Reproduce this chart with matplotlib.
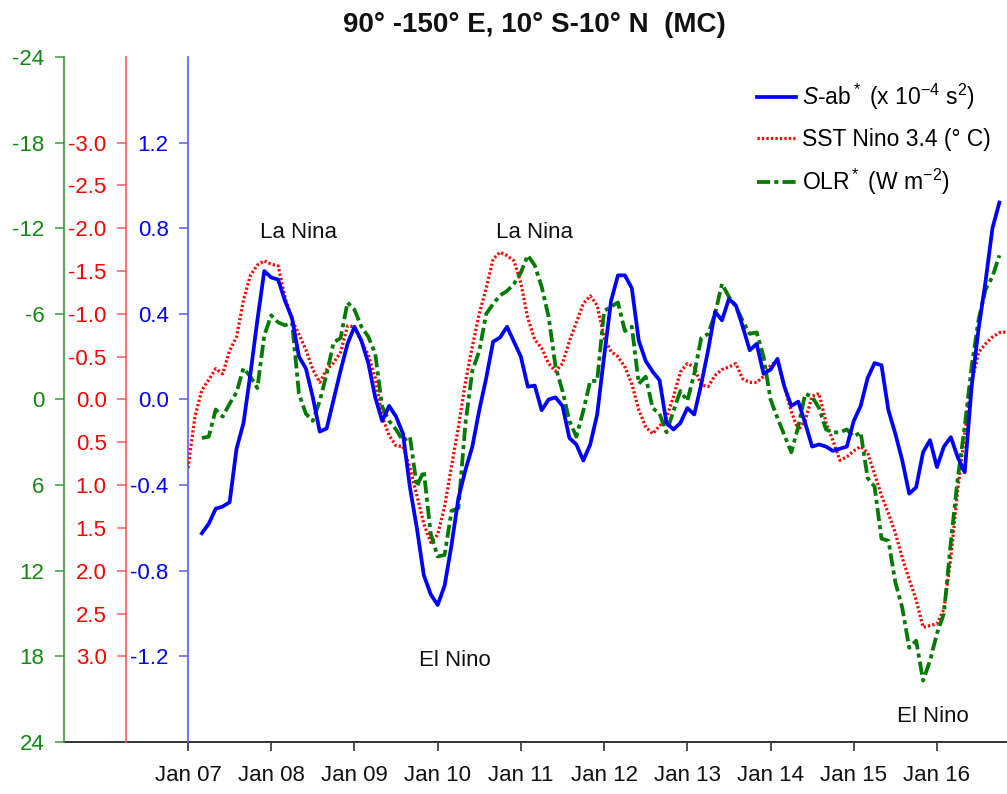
import matplotlib
matplotlib.use("Agg")
import matplotlib.pyplot as plt
import numpy as np

plt.rcParams['font.family'] = ['Liberation Sans', 'DejaVu Sans']
plt.rcParams['mathtext.fontset'] = 'custom'
plt.rcParams['mathtext.rm'] = 'Liberation Sans'
plt.rcParams['mathtext.it'] = 'Liberation Sans:italic'
plt.rcParams['mathtext.bf'] = 'Liberation Sans:bold'

# ---- data (month index 0 = Jan 2007) ----
sab_start = 2
sab = [-0.625, -0.58, -0.51, -0.50, -0.48, -0.23, -0.11, 0.12, 0.37, 0.60,
       0.57, 0.56, 0.46, 0.38, 0.20, 0.145, 0.01, -0.15, -0.135, 0.0,
       0.135, 0.26, 0.34, 0.275, 0.17, 0.01, -0.10, -0.03, -0.08, -0.16,
       -0.41, -0.60, -0.82, -0.91, -0.96, -0.87, -0.68, -0.46, -0.33, -0.22,
       -0.05, 0.10, 0.27, 0.29, 0.34, 0.27, 0.20, 0.06, 0.065, -0.05,
       0.0, 0.01, -0.03, -0.18, -0.21, -0.285, -0.21, -0.07, 0.20, 0.46,
       0.58, 0.58, 0.52, 0.275, 0.18, 0.13, 0.09, -0.11, -0.14, -0.11,
       -0.04, -0.07, 0.07, 0.23, 0.41, 0.37, 0.47, 0.44, 0.34, 0.23,
       0.26, 0.12, 0.14, 0.19, 0.06, -0.03, -0.01, -0.11, -0.22, -0.21,
       -0.22, -0.24, -0.23, -0.22, -0.10, -0.03, 0.10, 0.17, 0.16, -0.05,
       -0.16, -0.285, -0.44, -0.41, -0.246, -0.19, -0.316, -0.22, -0.176, -0.27,
       -0.34, 0.06, 0.33, 0.55, 0.80, 0.92]

sst_start = 0
sst = [0.80, 0.20, -0.11, -0.23, -0.36, -0.30, -0.57, -0.73, -1.16, -1.45,
       -1.57, -1.62, -1.58, -1.56, -1.19, -0.93, -0.76, -0.58, -0.35, -0.20,
       -0.35, -0.43, -0.55, -0.86, -0.85, -0.68, -0.52, -0.25, 0.20, 0.42,
       0.54, 0.55, 0.80, 1.12, 1.45, 1.67, 1.58, 1.25, 0.78, 0.32,
       -0.20, -0.62, -1.00, -1.30, -1.64, -1.72, -1.68, -1.62, -1.36, -0.95,
       -0.70, -0.60, -0.42, -0.33, -0.42, -0.68, -0.90, -1.12, -1.21, -1.10,
       -0.72, -0.56, -0.50, -0.38, -0.18, 0.12, 0.32, 0.40, 0.31, 0.21,
       -0.03, -0.32, -0.42, -0.38, -0.17, -0.15, -0.28, -0.35, -0.38, -0.42,
       -0.24, -0.20, -0.20, -0.27, -0.40, -0.45, -0.15, 0.14, 0.36, 0.245,
       -0.04, -0.07, 0.27, 0.48, 0.71, 0.67, 0.60, 0.55, 0.62, 0.87,
       1.12, 1.33, 1.56, 1.85, 2.10, 2.34, 2.66, 2.64, 2.62, 2.45,
       1.85, 1.05, 0.40, -0.20, -0.55, -0.65, -0.73, -0.78, -0.79]

olr_start = 2
olr = [2.7, 2.6, 0.7, 1.2, 0.3, -0.5, -2.2, -1.6, -0.8, -4.5,
       -5.9, -5.4, -5.2, -5.4, -0.4, 1.0, 1.5, 0.1, -1.8, -4.0,
       -4.3, -6.8, -6.3, -5.1, -4.4, -3.2, 0.5, 1.5, 2.1, 2.9,
       2.6, 6.1, 5.0, 9.4, 11.0, 10.9, 7.8, 7.6, 1.7, -2.0,
       -3.4, -6.0, -6.7, -7.3, -7.6, -8.1, -8.9, -10.1, -9.4, -7.9,
       -5.8, -2.3, -0.6, 1.5, 2.6, 0.8, -1.3, -1.3, -6.2, -6.5,
       -6.8, -4.8, -5.1, -1.1, -1.6, 0.6, 1.0, 2.3, 0.8, -0.6,
       0.1, -1.8, -4.3, -4.6, -6.0, -8.1, -7.2, -6.5, -5.5, -4.6,
       -4.7, -3.0, 0.0, 1.3, 2.5, 3.7, 1.9, -0.4, -0.2, 0.6,
       2.1, 2.3, 2.3, 2.1, 2.6, 2.3, 5.5, 6.1, 9.75, 9.9,
       12.8, 14.6, 17.4, 16.9, 19.7, 18.3, 16.4, 15.0, 10.0, 5.5,
       1.9, -2.3, -5.6, -7.7, -8.6, -10.1]

year_labels = ['Jan 07', 'Jan 08', 'Jan 09', 'Jan 10', 'Jan 11',
               'Jan 12', 'Jan 13', 'Jan 14', 'Jan 15', 'Jan 16']
sab_ticks = [-1.2, -0.8, -0.4, 0.0, 0.4, 0.8, 1.2]
sst_ticks = [-3.0, -2.5, -2.0, -1.5, -1.0, -0.5, 0.0, 0.5, 1.0, 1.5, 2.0, 2.5, 3.0]
olr_ticks = [-24, -18, -12, -6, 0, 6, 12, 18, 24]

annotations = [('La Nina', 15.9, 0.78), ('La Nina', 50.0, 0.78),
               ('El Nino', 38.5, -1.22), ('El Nino', 107.4, -1.48)]

# ---- figure ----
W, H = 1007, 794
fig = plt.figure(figsize=(W / 100, H / 100), dpi=100)
x0, x1, y0, y1 = 188, 1007, 57, 742
ax = fig.add_axes([x0 / W, 1 - y1 / H, (x1 - x0) / W, (y1 - y0) / H])
ax_r = ax.twinx()
ax_g = ax.twinx()
ax_top = ax.twinx()
axw = x1 - x0

c_blue, c_red, c_green = '#0000ff', '#ff0000', '#008000'
fs = 16

x_sab = np.arange(len(sab)) + sab_start
x_sst = np.arange(len(sst)) + sst_start
x_olr = np.arange(len(olr)) + olr_start

l_sst, = ax_r.plot(x_sst, sst, color=c_red, lw=2.3, linestyle=(0, (0.7, 0.7)))
l_olr, = ax_g.plot(x_olr, olr, color='#007a00', lw=2.7,
                   linestyle=(0, (3.5, 1.1, 1.1, 1.1)))
l_sab, = ax_top.plot(x_sab, sab, color=c_blue, lw=2.7)

ax.set_xlim(0, 118.1)
ax.set_ylim(-1.6, 1.6)
ax_top.set_ylim(-1.6, 1.6)
ax_top.axis('off')
ax_r.set_ylim(4.0, -4.0)
ax_g.set_ylim(24, -24)

for a in (ax, ax_r, ax_g):
    for s in ('top', 'right', 'bottom'):
        a.spines[s].set_visible(False)
    a.patch.set_visible(False)

# blue axis
ax.spines['left'].set_color('#5a5aff')
ax.spines['left'].set_linewidth(1.2)
ax.set_yticks(sab_ticks)
ax.set_yticklabels(['%.1f' % v for v in sab_ticks])
ax.tick_params(axis='y', colors='#5a5aff', labelcolor=c_blue, labelsize=fs,
               direction='out', length=6.5, width=1.1, pad=7.5)

# red axis
ax_r.spines['left'].set_visible(True)
ax_r.spines['left'].set_position(('axes', -(188 - 126) / axw))
ax_r.spines['left'].set_color('#ff5a5a')
ax_r.spines['left'].set_linewidth(1.2)
ax_r.yaxis.set_ticks_position('left')
ax_r.yaxis.set_label_position('left')
ax_r.set_yticks(sst_ticks)
ax_r.set_yticklabels(['%.1f' % v for v in sst_ticks])
ax_r.tick_params(axis='y', colors='#ff5a5a', labelcolor=c_red, labelsize=fs,
                 direction='out', length=6.5, width=1.1, pad=7.5)

# green axis
ax_g.spines['left'].set_visible(True)
ax_g.spines['left'].set_position(('axes', -(188 - 64) / axw))
ax_g.spines['left'].set_color('#3a9a3a')
ax_g.spines['left'].set_linewidth(1.2)
ax_g.yaxis.set_ticks_position('left')
ax_g.yaxis.set_label_position('left')
ax_g.set_yticks(olr_ticks)
ax_g.set_yticklabels(['%d' % v for v in olr_ticks])
ax_g.tick_params(axis='y', colors='#3a9a3a', labelcolor='#118811', labelsize=fs,
                 direction='out', length=6.5, width=1.1, pad=7.5)

# x axis
ax.set_xticks(np.arange(len(year_labels)) * 12)
ax.set_xticklabels(year_labels)
ax.tick_params(axis='x', colors='#333333', labelcolor='#111111', labelsize=fs,
               direction='out', length=6.5, width=1.2, pad=10)
ax.plot([-(188 - 64) / axw, 1.0], [0, 0], transform=ax.transAxes,
        color='#333333', lw=1.4, clip_on=False)

# annotations
for txt, xm, yv in annotations:
    ax_top.text(xm, yv, txt, ha='center', va='center', fontsize=fs, color='#111111')

# title
fig.text(534 / W, 1 - 25 / H, '90° -150° E, 10° S-10° N  (MC)', ha='center',
         va='center', fontsize=20, fontweight='bold', color='#111111')

leg = ax_top.legend([l_sab, l_sst, l_olr],
                    [r'$S$-ab$^*$ (x 10$^{-4}$ s$^2$)', 'SST Nino 3.4 (° C)',
                     r'OLR$^*$ (W m$^{-2}$)'],
                    loc='upper left', bbox_to_anchor=(757 / W, 1 - 82 / H),
                    bbox_transform=fig.transFigure, frameon=False, fontsize=16.5,
                    handlelength=1.7, handletextpad=0.25, labelspacing=0.7,
                    borderpad=0, borderaxespad=0)

fig.savefig('out.png', dpi=100)
